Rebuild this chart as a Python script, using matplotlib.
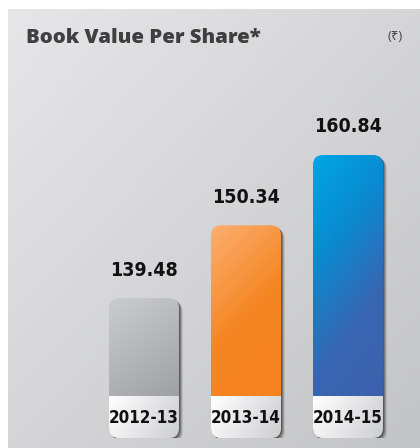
import numpy as np
import matplotlib
matplotlib.use("Agg")
import matplotlib.pyplot as plt
from matplotlib.patches import FancyBboxPatch
from matplotlib.colors import LinearSegmentedColormap

years = ["2012-13", "2013-14", "2014-15"]
book_value = [139.48, 150.34, 160.84]
# gradient stops of each bar, top-left to bottom-right
bar_colors = [[(0.0, "#cbcccf"), (1.0, "#929497")],
              [(0.0, "#fbae70"), (0.45, "#f58622"), (1.0, "#f5821f")],
              [(0.0, "#00a6e6"), (0.3, "#0a8ad0"), (0.6, "#3866b2"), (1.0, "#3d5fad")]]

W, H = 420, 448
BASE = 118.6          # value at the foot of the bars
PX_Y = 6.7            # pixels per rupee
PX_X = 102.0          # pixels per category step
FOOT = 10             # px between bar foot and figure bottom
LABEL_H = 42 / PX_Y   # white year box height, in value units
RADIUS = 10 / PX_X
NARROW = dict(family=["DejaVu Sans"], fontstretch="condensed", fontweight="bold")


def gradient(stops, w=2.0, h=1.0):
    xx, yy = np.meshgrid(np.linspace(0, 1, 96), np.linspace(0, 1, 96))
    t = (w * xx + h * yy) / (w + h)
    cmap = LinearSegmentedColormap.from_list("g", stops)
    return t, cmap


def rounded(ax, x, y, w, h, **kw):
    return FancyBboxPatch((x, y), w, h,
                          boxstyle=f"round,pad=0,rounding_size={RADIUS}",
                          mutation_aspect=PX_X / PX_Y, **kw)


def main():
    fig = plt.figure(figsize=(W / 100, H / 100), dpi=100)
    fig.patch.set_facecolor("white")

    # background panel
    bg = fig.add_axes([0, 0, 1, 1])
    bg.axis("off")
    t, cmap = gradient(["#e6e6e8", "#c3c4c6"], 1.0, 1.0)
    bg.imshow(t, cmap=cmap, extent=(8, W, H, 9), aspect="auto", interpolation="bicubic")
    bg.set_xlim(0, W)
    bg.set_ylim(H, 0)

    ax = fig.add_axes([0, FOOT / H, 1, (H - FOOT) / H])
    ax.patch.set_alpha(0)
    ax.axis("off")
    heights = [v - BASE for v in book_value]
    bars = ax.bar(range(len(years)), heights, bottom=BASE, width=70 / PX_X, color="none")

    for rect, stops, val, yr in zip(bars, bar_colors, book_value, years):
        x0, y0 = rect.get_x(), rect.get_y()
        w, h = rect.get_width(), rect.get_height()

        # drop shadow to the lower right
        for k, a in [(4, 0.10), (3, 0.18), (2, 0.28), (1, 0.35)]:
            ax.add_patch(rounded(ax, x0 + k / PX_X, y0 - k / PX_Y, w, h,
                                 facecolor="#1e1e1e", edgecolor="none", alpha=a, zorder=2))

        clip = rounded(ax, x0, y0, w, h, facecolor="none", edgecolor="none", zorder=3)
        ax.add_patch(clip)
        t, cmap = gradient(stops, 1.0, 3.0)
        im = ax.imshow(t, cmap=cmap, extent=(x0, x0 + w, y0, y0 + h), origin="upper",
                       aspect="auto", interpolation="bicubic", zorder=3)
        im.set_clip_path(clip)

        # white year box at the foot
        t, cmap = gradient(["#ffffff", "#cdced0"], 1.0, 0.3)
        lab = ax.imshow(t, cmap=cmap, extent=(x0, x0 + w, y0, y0 + LABEL_H), origin="upper",
                        aspect="auto", interpolation="bicubic", zorder=4)
        lab.set_clip_path(clip)

        ax.text(x0 + w / 2, y0 + LABEL_H / 2 - 0.1, yr, ha="center", va="center",
                fontsize=12.2, color="#111111", zorder=5, **NARROW)
        ax.text(x0 + w / 2, val + 28 / PX_Y, f"{val:.2f}", ha="center", va="center",
                fontsize=14, color="#111111", zorder=5, **NARROW)

    ax.set_xlim(-144 / PX_X, (W - 144) / PX_X)
    ax.set_ylim(BASE, BASE + (H - FOOT) / PX_Y)

    fig.text(26 / W, 1 - 38 / H, "Book Value Per Share*", ha="left", va="center",
             fontsize=14.7, fontweight=800, color="#3f3f40",
             family=["Open Sans", "DejaVu Sans"])
    fig.text(395 / W, 1 - 36 / H, "(₹)", ha="center", va="center",
             fontsize=9.5, color="#444444", family=["Open Sans", "Noto Sans", "DejaVu Sans"])

    fig.savefig("out.png", dpi=100)


if __name__ == '__main__':
    main()
